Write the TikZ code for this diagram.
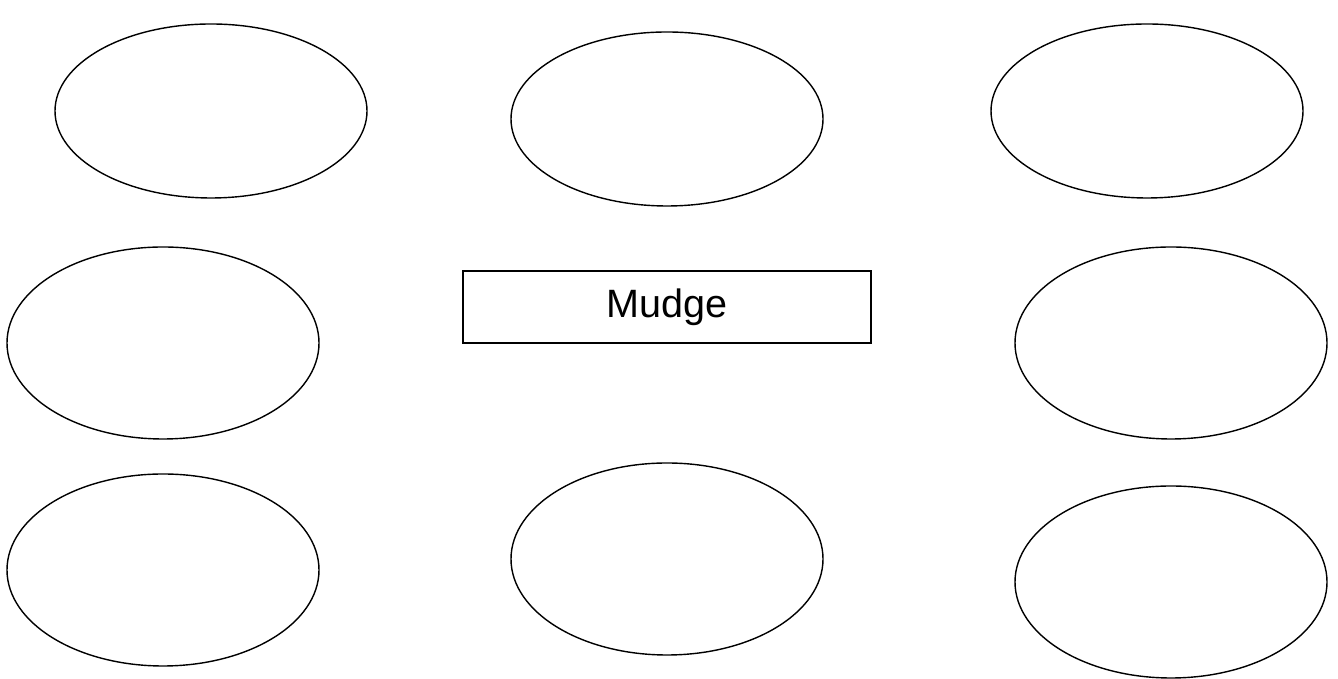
\documentclass[tikz,border=0pt]{standalone}
\usepackage{fontspec}
\setmainfont{Liberation Sans}
\usetikzlibrary{shapes}

\begin{document}
\begin{tikzpicture}[
  oval/.style={draw, ellipse, line width=0.8pt, inner sep=0pt, minimum width=6.24cm},
  titlebox/.style={draw, line width=0.8pt, minimum width=8.16cm, minimum height=1.44cm, font=\fontsize{22.5}{26}\selectfont}
]
  \useasboundingbox (0,0) rectangle (26.76,13.58);

  % top row
  \node[oval, minimum height=3.48cm] (topleft) at (4.22, 11.36) {};
  \node[oval, minimum height=3.48cm] (topmid) at (13.34, 11.20) {};
  \node[oval, minimum height=3.48cm] (topright) at (22.94, 11.36) {};

  % middle row
  \node[oval, minimum height=3.84cm] (midleft) at (3.26, 6.72) {};
  \node[titlebox] (mudge) at (13.34, 7.44) {Mudge};
  \node[oval, minimum height=3.84cm] (midright) at (23.42, 6.72) {};

  % bottom row
  \node[oval, minimum height=3.84cm] (botleft) at (3.26, 2.18) {};
  \node[oval, minimum height=3.84cm] (botmid) at (13.34, 2.40) {};
  \node[oval, minimum height=3.84cm] (botright) at (23.42, 1.94) {};
\end{tikzpicture}
\end{document}
